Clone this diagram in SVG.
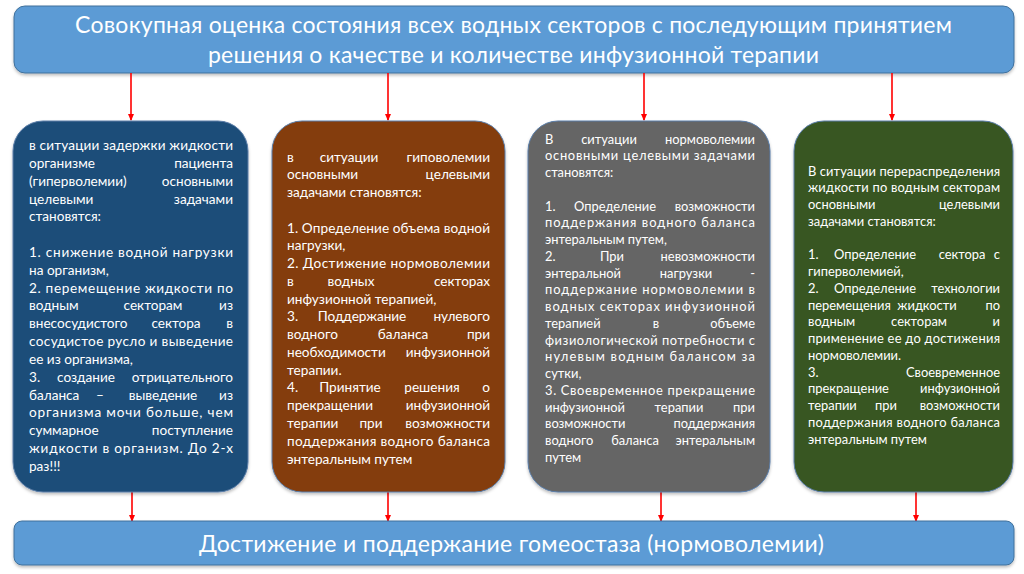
<svg xmlns="http://www.w3.org/2000/svg" width="1024" height="574" viewBox="0 0 1024 574">
<defs>
<marker id="ah" markerWidth="8" markerHeight="8" refX="6" refY="4" orient="auto" markerUnits="userSpaceOnUse">
<path d="M0,1 L7,4 L0,7 Z" fill="#ff0000"/>
</marker>
<filter id="sh" x="-5%" y="-5%" width="110%" height="115%">
<feDropShadow dx="0" dy="2" stdDeviation="1.5" flood-color="#000" flood-opacity="0.25"/>
</filter>
<style>
.hdr{fill:#5b9bd5;stroke:#41719c;stroke-width:1}
.t{font-family:Lato,"Liberation Sans",sans-serif;fill:#ffffff}
.big{font-size:23px}
.b12{font-size:13.6px}
.b34{font-size:12.9px}
.e{text-anchor:end}
.m{text-anchor:middle}
.box{stroke:#5a7da8;stroke-width:1}
.arr{stroke:#ff0000;stroke-width:1.6;fill:none}
</style>
</defs>
<rect width="1024" height="574" fill="#ffffff"/>

<g id="top">
<rect class="hdr" x="14" y="6" width="1000" height="67" rx="11" filter="url(#sh)"/>
<text class="t big" x="75" y="33" textLength="877" lengthAdjust="spacing">Совокупная оценка состояния всех водных секторов с последующим принятием</text>
<text class="t big" x="208" y="63" textLength="611" lengthAdjust="spacing">решения о качестве и количестве инфузионной терапии</text>
</g>

<g id="connectors">
<line class="arr" x1="131" y1="73" x2="131" y2="120" marker-end="url(#ah)"/>
<line class="arr" x1="388" y1="73" x2="388" y2="120" marker-end="url(#ah)"/>
<line class="arr" x1="644" y1="73" x2="644" y2="120" marker-end="url(#ah)"/>
<line class="arr" x1="892" y1="73" x2="892" y2="120" marker-end="url(#ah)"/>
<line class="arr" x1="132" y1="492" x2="132" y2="521" marker-end="url(#ah)"/>
<line class="arr" x1="388" y1="492" x2="388" y2="521" marker-end="url(#ah)"/>
<line class="arr" x1="661" y1="492" x2="661" y2="521" marker-end="url(#ah)"/>
<line class="arr" x1="916" y1="492" x2="916" y2="521" marker-end="url(#ah)"/>
</g>

<g id="box1">
<rect class="box" x="13" y="121" width="235" height="371" rx="30" fill="#1f4e79" filter="url(#sh)"/>
<g class="t b12">
<text x="29" y="150" textLength="204" lengthAdjust="spacing">в ситуации задержки жидкости</text>
<text x="29" y="167.8">организме</text><text class="e" x="233" y="167.8">пациента</text>
<text x="29" y="185.7">(гиперволемии)</text><text class="e" x="233" y="185.7">основными</text>
<text x="29" y="203.5">целевыми</text><text class="e" x="233" y="203.5">задачами</text>
<text x="29" y="221.3">становятся:</text>
<text x="29" y="257" textLength="204" lengthAdjust="spacing">1. снижение водной нагрузки</text>
<text x="29" y="274.8">на организм,</text>
<text x="29" y="292.6" textLength="204" lengthAdjust="spacing">2. перемещение жидкости по</text>
<text x="29" y="310.4">водным</text><text class="m" x="153" y="310.4">секторам</text><text class="e" x="233" y="310.4">из</text>
<text x="29" y="328.3">внесосудистого</text><text class="m" x="176" y="328.3">сектора</text><text class="e" x="233" y="328.3">в</text>
<text x="29" y="346.1" textLength="204" lengthAdjust="spacing">сосудистое русло и выведение</text>
<text x="29" y="363.9">ее из организма,</text>
<text x="29" y="381.8">3.</text><text class="m" x="86" y="381.8">создание</text><text class="e" x="233" y="381.8">отрицательного</text>
<text x="29" y="399.6">баланса</text><text class="m" x="100" y="399.6">–</text><text class="m" x="163" y="399.6">выведение</text><text class="e" x="233" y="399.6">из</text>
<text x="29" y="417.4" textLength="204" lengthAdjust="spacing">организма мочи больше, чем</text>
<text x="29" y="435.2">суммарное</text><text class="e" x="233" y="435.2">поступление</text>
<text x="29" y="453.1" textLength="204" lengthAdjust="spacing">жидкости в организм. До 2-х</text>
<text x="29" y="470.9">раз!!!</text>
</g>
</g>

<g id="box2">
<rect class="box" x="272" y="121" width="233" height="371" rx="30" fill="#843c0c" filter="url(#sh)"/>
<g class="t b12">
<text x="287" y="161.5">в</text><text class="m" x="349" y="161.5">ситуации</text><text class="e" x="490" y="161.5">гиповолемии</text>
<text x="287" y="179.3">основными</text><text class="e" x="490" y="179.3">целевыми</text>
<text x="287" y="197">задачами становятся:</text>
<text x="287" y="232.5" textLength="203" lengthAdjust="spacing">1. Определение объема водной</text>
<text x="287" y="250.3">нагрузки,</text>
<text x="287" y="268.1" textLength="203" lengthAdjust="spacing">2. Достижение нормоволемии</text>
<text x="287" y="285.8">в</text><text class="m" x="351" y="285.8">водных</text><text class="e" x="490" y="285.8">секторах</text>
<text x="287" y="303.6">инфузионной терапией,</text>
<text x="287" y="321.4">3.</text><text class="m" x="362" y="321.4">Поддержание</text><text class="e" x="490" y="321.4">нулевого</text>
<text x="287" y="339.1">водного</text><text class="m" x="403" y="339.1">баланса</text><text class="e" x="490" y="339.1">при</text>
<text x="287" y="356.9">необходимости</text><text class="e" x="490" y="356.9">инфузионной</text>
<text x="287" y="374.6">терапии.</text>
<text x="287" y="392.4">4.</text><text class="m" x="350" y="392.4">Принятие</text><text class="m" x="432" y="392.4">решения</text><text class="e" x="490" y="392.4">о</text>
<text x="287" y="410.2">прекращении</text><text class="e" x="490" y="410.2">инфузионной</text>
<text x="287" y="427.9">терапии</text><text class="m" x="371" y="427.9">при</text><text class="e" x="490" y="427.9">возможности</text>
<text x="287" y="445.7" textLength="203" lengthAdjust="spacing">поддержания водного баланса</text>
<text x="287" y="463.5">энтеральным путем</text>
</g>
</g>

<g id="box3">
<rect class="box" x="528" y="121" width="242" height="371" rx="30" fill="#656565" filter="url(#sh)"/>
<g class="t b34">
<text x="545" y="143.5">В</text><text class="m" x="609" y="143.5">ситуации</text><text class="e" x="755" y="143.5">нормоволемии</text>
<text x="545" y="160.2" textLength="210" lengthAdjust="spacing">основными целевыми задачами</text>
<text x="545" y="177">становятся:</text>
<text x="545" y="210.5">1.</text><text class="m" x="615" y="210.5">Определение</text><text class="e" x="755" y="210.5">возможности</text>
<text x="545" y="227.2" textLength="210" lengthAdjust="spacing">поддержания водного баланса</text>
<text x="545" y="244">энтеральным путем,</text>
<text x="545" y="260.7">2.</text><text class="m" x="612" y="260.7">При</text><text class="e" x="755" y="260.7">невозможности</text>
<text x="545" y="277.5">энтеральной</text><text class="m" x="686" y="277.5">нагрузки</text><text class="e" x="755" y="277.5">-</text>
<text x="545" y="294.2" textLength="210" lengthAdjust="spacing">поддержание нормоволемии в</text>
<text x="545" y="311" textLength="210" lengthAdjust="spacing">водных секторах инфузионной</text>
<text x="545" y="327.7">терапией</text><text class="m" x="656" y="327.7">в</text><text class="e" x="755" y="327.7">объеме</text>
<text x="545" y="344.5" textLength="210" lengthAdjust="spacing">физиологической потребности с</text>
<text x="545" y="361.2" textLength="210" lengthAdjust="spacing">нулевым водным балансом за</text>
<text x="545" y="378">сутки,</text>
<text x="545" y="394.7" textLength="210" lengthAdjust="spacing">3. Своевременное прекращение</text>
<text x="545" y="411.5">инфузионной</text><text class="m" x="679" y="411.5">терапии</text><text class="e" x="755" y="411.5">при</text>
<text x="545" y="428.2">возможности</text><text class="e" x="755" y="428.2">поддержания</text>
<text x="545" y="445">водного</text><text class="m" x="635" y="445">баланса</text><text class="e" x="755" y="445">энтеральным</text>
<text x="545" y="461.7">путем</text>
</g>
</g>

<g id="box4">
<rect class="box" x="794" y="121" width="219" height="371" rx="30" fill="#385723" filter="url(#sh)"/>
<g class="t b34">
<text x="808" y="175.5" textLength="192" lengthAdjust="spacing">В ситуации перераспределения</text>
<text x="808" y="192.2" textLength="192" lengthAdjust="spacing">жидкости по водным секторам</text>
<text x="808" y="209">основными</text><text class="e" x="1000" y="209">целевыми</text>
<text x="808" y="225.7">задачами становятся:</text>
<text x="808" y="259.2">1.</text><text class="m" x="875" y="259.2">Определение</text><text class="m" x="962" y="259.2">сектора</text><text class="e" x="1000" y="259.2">с</text>
<text x="808" y="276">гиперволемией,</text>
<text x="808" y="292.7">2.</text><text class="m" x="875" y="292.7">Определение</text><text class="e" x="1000" y="292.7">технологии</text>
<text x="808" y="309.5">перемещения</text><text class="m" x="927" y="309.5">жидкости</text><text class="e" x="1000" y="309.5">по</text>
<text x="808" y="326.2">водным</text><text class="m" x="919" y="326.2">секторам</text><text class="e" x="1000" y="326.2">и</text>
<text x="808" y="343" textLength="192" lengthAdjust="spacing">применение ее до достижения</text>
<text x="808" y="359.7">нормоволемии.</text>
<text x="808" y="376.5">3.</text><text class="e" x="1000" y="376.5">Своевременное</text>
<text x="808" y="393.2">прекращение</text><text class="e" x="1000" y="393.2">инфузионной</text>
<text x="808" y="410">терапии</text><text class="m" x="886" y="410">при</text><text class="e" x="1000" y="410">возможности</text>
<text x="808" y="426.7" textLength="192" lengthAdjust="spacing">поддержания водного баланса</text>
<text x="808" y="443.5">энтеральным путем</text>
</g>
</g>

<g id="bottom">
<rect class="hdr" x="14" y="521" width="1000" height="44" rx="8" filter="url(#sh)"/>
<text class="t big" x="199" y="552" textLength="625" lengthAdjust="spacing">Достижение и поддержание гомеостаза (нормоволемии)</text>
</g>
</svg>
